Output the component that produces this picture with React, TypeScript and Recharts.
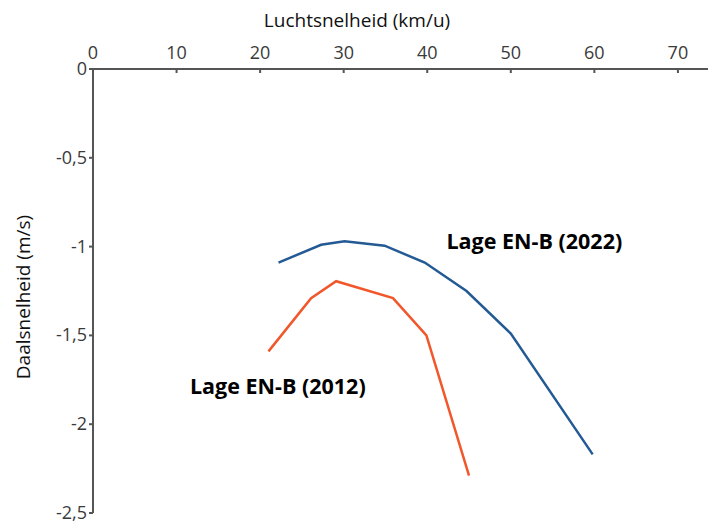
import React from "react";
import { LineChart, Line, XAxis, YAxis, ReferenceDot } from "recharts";

const xTicks = [0, 10, 20, 30, 40, 50, 60, 70];
const yTicks = [0, -0.5, -1, -1.5, -2, -2.5];
const yTickLabels = ["0", "-0,5", "-1", "-1,5", "-2", "-2,5"];

const series2022 = [
  { x: 22.2, y: -1.09 },
  { x: 27.3, y: -0.99 },
  { x: 30.1, y: -0.97 },
  { x: 34.9, y: -0.995 },
  { x: 39.7, y: -1.09 },
  { x: 44.7, y: -1.25 },
  { x: 50.0, y: -1.49 },
  { x: 59.8, y: -2.17 },
];

const series2012 = [
  { x: 21.0, y: -1.59 },
  { x: 26.1, y: -1.29 },
  { x: 29.1, y: -1.195 },
  { x: 35.9, y: -1.29 },
  { x: 39.9, y: -1.5 },
  { x: 45.0, y: -2.29 },
];

const annotations = [
  { text: "Lage EN-B (2022)", x: 42.3, y: -0.975 },
  { text: "Lage EN-B (2012)", x: 11.6, y: -1.79 },
];

const xTitle = "Luchtsnelheid (km/u)";
const yTitle = "Daalsnelheid (m/s)";

const FONT = "'Open Sans', sans-serif";
const AXIS = "#555555";
const TICK_TEXT = "#3a3a3a";

const XTick = (props: any) => {
  const { x, y, payload } = props;
  return (
    <g>
      <line x1={x} x2={x} y1={y} y2={y + 4} stroke={AXIS} strokeWidth={2} />
      <text x={x} y={y - 10} textAnchor="middle" fill={TICK_TEXT} fontSize={18} fontFamily={FONT}>
        {payload.value}
      </text>
    </g>
  );
};

const YTick = (props: any) => {
  const { x, y, payload } = props;
  const idx = yTicks.indexOf(payload.value);
  return (
    <text x={x} y={y} dy={6} textAnchor="end" fill={TICK_TEXT} fontSize={18} fontFamily={FONT}>
      {idx >= 0 ? yTickLabels[idx] : payload.value}
    </text>
  );
};

const XTitle = (props: any) => {
  const { viewBox } = props;
  return (
    <text x={357} y={viewBox.y - 41} textAnchor="middle" fill="#111" fontSize={19} fontFamily={FONT}>
      {xTitle}
    </text>
  );
};

const YTitle = (props: any) => {
  const { viewBox } = props;
  const cx = 30;
  const cy = viewBox.y + viewBox.height / 2 + 6;
  return (
    <text x={cx} y={cy} transform={`rotate(-90 ${cx} ${cy})`} textAnchor="middle" fill="#111" fontSize={19} fontFamily={FONT}>
      {yTitle}
    </text>
  );
};

const AnnLabel = (text: string) => (props: any) => {
  const { viewBox } = props;
  return (
    <text x={viewBox.x} y={viewBox.y} dy={7} textAnchor="start" fill="#000" fontSize={21.5} fontWeight={700} fontFamily={FONT}>
      {text}
    </text>
  );
};

export default function App() {
  return (
    <div style={{ position: "absolute", left: 0, top: 0, width: 708, height: 522, background: "#fff" }}>
      <LineChart width={708} height={522} margin={{ top: 68, right: 0, bottom: 9, left: 92 }}>
        <XAxis
          xAxisId={0}
          type="number"
          dataKey="x"
          orientation="top"
          domain={[0, 73.6]}
          ticks={xTicks}
          allowDataOverflow
          axisLine={{ stroke: AXIS, strokeWidth: 2 }}
          tickLine={false}
          tickSize={0}
          tickMargin={0}
          tick={<XTick />}
          height={1}
          label={<XTitle />}
        />
        <YAxis
          yAxisId={0}
          type="number"
          dataKey="y"
          domain={[-2.5, 0]}
          ticks={yTicks}
          allowDataOverflow
          axisLine={{ stroke: AXIS, strokeWidth: 2 }}
          tickLine={{ stroke: AXIS, strokeWidth: 2 }}
          tickSize={4}
          tick={<YTick />}
          width={1}
          label={<YTitle />}
        />
        <Line data={series2022} dataKey="y" type="linear" stroke="#245a94" strokeWidth={2.5} dot={false} isAnimationActive={false} />
        <Line data={series2012} dataKey="y" type="linear" stroke="#f2572b" strokeWidth={2.5} dot={false} isAnimationActive={false} />
        {annotations.map((a) => (
          <ReferenceDot key={a.text} x={a.x} y={a.y} r={0} fill="none" stroke="none" label={AnnLabel(a.text)} />
        ))}
      </LineChart>
    </div>
  );
}
